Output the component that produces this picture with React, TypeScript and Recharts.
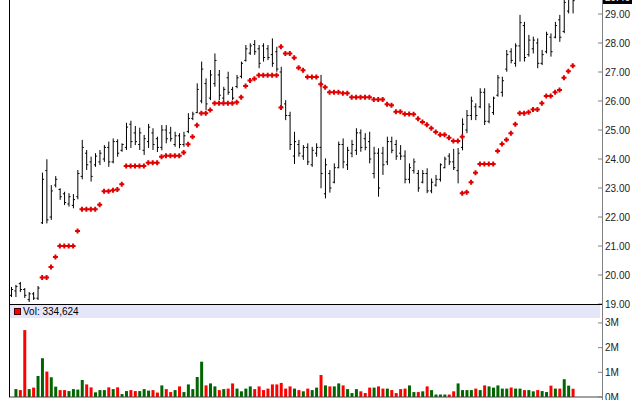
import { ComposedChart, Bar, Line, XAxis, YAxis, Cell } from 'recharts'

// daily bars, oldest first
const highs = [
  19.59, 19.66, 19.76, 19.55, 19.41, 19.41, 19.62, 23.53, 23.99, 23.1,
  23.41, 22.99, 22.87, 22.82, 22.79, 23.62, 24.66, 24.31, 24.08, 24.2,
  24.31, 24.48, 24.6, 24.71, 24.68, 24.54, 25.25, 25.32, 25.14, 25.08,
  24.83, 25.21, 25.06, 24.77, 25.17, 25.17, 25.11, 24.94, 24.89, 24.94,
  25.58, 25.63, 26.61, 27.36, 26.78, 27.07, 27.64, 27.07, 26.49, 27.01,
  26.49, 26.9, 27.36, 27.93, 27.99, 28.1, 27.93, 27.99, 27.93, 28.16,
  27.87, 27.18, 26.03, 25.63, 24.94, 24.66, 24.48, 24.54, 24.42, 24.54,
  26.9, 24.02, 23.62, 23.85, 24.6, 24.71, 24.42, 24.66, 25.06, 25.02,
  24.89, 24.94, 24.42, 24.37, 24.42, 24.77, 24.77, 24.66, 24.48, 24.3,
  23.85, 24.02, 23.62, 23.62, 23.68, 23.33, 23.45, 23.85, 24.08, 24.2,
  24.35, 24.38, 25.4, 25.69, 26.15, 25.92, 26.44, 26.44, 25.92, 26.15,
  26.9, 26.84, 27.76, 27.82, 27.99, 28.97, 28.73, 28.28, 28.22, 28.16,
  27.76, 28.39, 28.33, 28.73, 28.97, 29.7, 29.8, 29.8,
]
const lows = [
  19.24, 19.24, 19.41, 19.21, 19.07, 19.14, 19.14, 21.76, 21.78, 21.9,
  23.02, 22.59, 22.41, 22.36, 22.3, 22.61, 23.3, 23.62, 23.22, 23.73,
  23.79, 23.9, 23.73, 23.85, 24.08, 24.25, 24.31, 24.38, 24.48, 24.31,
  24.14, 24.38, 24.31, 24.24, 24.3, 24.54, 24.6, 24.42, 24.37, 24.42,
  24.89, 25.34, 25.58, 25.92, 25.69, 26.03, 26.49, 26.03, 25.98, 26.21,
  26.03, 26.44, 26.78, 27.36, 27.59, 27.59, 27.13, 27.36, 27.41, 27.18,
  27.01, 25.69, 25.34, 24.31, 23.83, 24.08, 23.97, 23.79, 23.73, 24.08,
  22.99, 22.64, 22.84, 23.16, 23.68, 23.68, 23.62, 24.06, 24.14, 24.25,
  24.3, 23.85, 23.33, 22.7, 23.45, 23.79, 24.2, 23.97, 23.97, 23.16,
  23.16, 23.5, 22.87, 23.16, 22.82, 22.82, 23.05, 23.22, 23.68, 23.79,
  23.62, 23.16, 24.3, 24.89, 25.34, 25.34, 25.75, 25.17, 25.23, 25.52,
  26.15, 26.15, 27.01, 27.3, 27.18, 27.36, 27.36, 27.53, 27.64, 27.13,
  27.24, 27.64, 27.53, 28.16, 28.04, 28.34, 29.02, 29.02,
]
const opens = [
  19.3, 19.45, 19.7, 19.5, 19.15, 19.35, 19.2, 21.8, 23.6, 22.0,
  23.1, 22.95, 22.8, 22.45, 22.4, 22.7, 23.4, 24.2, 23.9, 23.8,
  23.9, 24.0, 24.4, 23.9, 24.6, 24.3, 24.4, 25.2, 24.9, 24.5,
  24.3, 24.6, 24.9, 24.7, 24.4, 25.0, 24.9, 24.5, 24.8, 24.5,
  24.95, 25.4, 25.6, 26.0, 26.6, 26.1, 26.6, 26.9, 26.1, 26.8,
  26.4, 26.5, 26.85, 27.4, 27.65, 27.95, 27.8, 27.9, 27.8, 27.6,
  27.7, 27.0, 25.9, 25.5, 24.1, 24.5, 24.1, 24.4, 23.8, 24.2,
  24.4, 22.8, 23.5, 23.2, 23.7, 24.5, 23.8, 24.2, 24.3, 24.9,
  24.7, 24.6, 23.5, 24.2, 24.2, 23.9, 24.6, 24.5, 24.2, 24.1,
  23.3, 23.6, 23.5, 23.2, 23.5, 22.9, 23.1, 23.3, 23.7, 24.1,
  23.9, 23.6, 24.4, 25.0, 25.5, 25.8, 25.8, 26.3, 25.3, 25.6,
  26.2, 26.3, 27.1, 27.7, 27.3, 27.9, 28.6, 27.6, 27.8, 28.0,
  27.3, 27.7, 28.2, 28.2, 28.8, 28.4, 29.1, 29.6,
]
const closes = [
  19.5, 19.6, 19.5, 19.3, 19.35, 19.2, 19.55, 23.3, 21.9, 22.9,
  23.3, 22.7, 22.5, 22.7, 22.6, 23.5, 24.4, 23.8, 23.4, 24.1,
  24.2, 24.4, 23.9, 24.6, 24.2, 24.5, 25.1, 24.6, 24.6, 24.9,
  24.7, 25.1, 24.5, 24.4, 25.0, 24.7, 24.7, 24.8, 24.5, 24.8,
  25.4, 25.55, 26.4, 27.1, 25.9, 26.9, 27.4, 26.2, 26.4, 26.3,
  26.1, 26.8, 27.3, 27.8, 27.9, 27.7, 27.3, 27.5, 27.5, 27.3,
  27.1, 25.8, 25.5, 24.5, 24.6, 24.2, 24.4, 23.9, 24.3, 24.4,
  23.5, 23.8, 23.0, 23.7, 24.5, 23.9, 24.3, 24.5, 24.9, 24.4,
  24.4, 24.0, 24.2, 23.0, 23.8, 24.6, 24.3, 24.1, 24.1, 23.3,
  23.7, 23.9, 23.0, 23.5, 22.9, 23.2, 23.3, 23.8, 24.0, 23.9,
  23.7, 24.2, 25.2, 25.5, 26.0, 25.5, 26.3, 25.3, 25.8, 26.1,
  26.8, 26.7, 27.6, 27.4, 27.9, 28.7, 27.5, 28.1, 28.1, 27.3,
  27.6, 28.3, 27.7, 28.6, 28.2, 29.4, 29.6, 29.46,
]
const volumes = [
  0, 320000, 280000, 2710000, 320000, 380000, 850000, 1570000, 1030000, 800000,
  420000, 280000, 280000, 240000, 320000, 300000, 690000, 510000, 390000, 190000,
  280000, 280000, 390000, 320000, 390000, 120000, 240000, 280000, 240000, 240000,
  320000, 260000, 280000, 180000, 470000, 320000, 200000, 280000, 430000, 200000,
  510000, 320000, 810000, 1430000, 470000, 550000, 430000, 280000, 320000, 340000,
  550000, 340000, 230000, 340000, 430000, 320000, 430000, 280000, 340000, 510000,
  510000, 570000, 340000, 430000, 340000, 280000, 230000, 340000, 280000, 380000,
  890000, 470000, 430000, 430000, 550000, 470000, 320000, 160000, 320000, 230000,
  160000, 380000, 380000, 430000, 340000, 340000, 280000, 160000, 320000, 340000,
  470000, 200000, 200000, 230000, 430000, 280000, 100000, 100000, 100000, 100000,
  230000, 550000, 280000, 280000, 280000, 340000, 280000, 470000, 430000, 380000,
  470000, 340000, 340000, 380000, 340000, 340000, 280000, 280000, 230000, 280000,
  240000, 200000, 460000, 340000, 340000, 720000, 460000, 334624,
]
// parabolic SAR, below price (rising) and above price (falling)
const sarUp = [
  null, null, null, null, null, null, null, 19.91, 19.91, 20.28,
  20.62, 21.0, 21.0, 21.0, 21.0, 21.52, 22.27, 22.27, 22.27, 22.27,
  22.42, 22.89, 22.89, 22.92, 22.95, 23.13, 23.76, 23.76, 23.76, 23.76,
  23.76, 23.87, 23.87, 23.87, 24.08, 24.11, 24.11, 24.11, 24.11, 24.22,
  24.51, 24.77, 25.16, 25.58, 25.58, 25.69, 25.92, 25.92, 25.92, 25.92,
  25.92, 25.96, 26.13, 26.52, 26.71, 26.77, 26.89, 26.89, 26.89, 26.89,
  26.89, 25.78, null, null, null, null, null, null, null, null,
  null, null, null, null, null, null, null, null, null, null,
  null, null, null, null, null, null, null, null, null, null,
  null, null, null, null, null, null, null, null, null, null,
  null, null, 22.82, 22.85, 23.2, 23.53, 23.83, 23.83, 23.83, 23.83,
  24.28, 24.52, 24.66, 24.89, 25.2, 25.58, 25.58, 25.61, 25.71, 25.71,
  25.92, 26.17, 26.17, 26.3, 26.38, 26.8, 27.03, 27.22,
]
const sarDown = [
  null, null, null, null, null, null, null, null, null, null,
  null, null, null, null, null, null, null, null, null, null,
  null, null, null, null, null, null, null, null, null, null,
  null, null, null, null, null, null, null, null, null, null,
  null, null, null, null, null, null, null, null, null, null,
  null, null, null, null, null, null, null, null, null, null,
  null, 27.87, 27.64, 27.64, 27.49, 27.15, 27.06, 26.83, 26.83, 26.83,
  26.58, 26.47, 26.3, 26.3, 26.3, 26.27, 26.27, 26.13, 26.13, 26.13,
  26.13, 26.13, 26.05, 26.05, 26.05, 25.89, 25.85, 25.63, 25.63, 25.55,
  25.55, 25.54, 25.39, 25.28, 25.18, 25.06, 24.93, 24.84, 24.84, 24.73,
  24.62, 24.62, 24.77, null, null, null, null, null, null, null,
  null, null, null, null, null, null, null, null, null, null,
  null, null, null, null, null, null, null, null,
]
const priceTicks = [19, 20, 21, 22, 23, 24, 25, 26, 27, 28, 29]
const volumeTicks = [0, 1000000, 2000000, 3000000]
const monthTicks = [4, 24, 46, 68, 89, 110]
const lastPrice = 29.46

const FONT = '"Liberation Sans", Arial, sans-serif'
const UP = '#006600'
const DOWN = '#ff0000'

const rows = highs.map((h, i) => ({
  i,
  high: h,
  low: lows[i],
  open: opens[i],
  close: closes[i],
  range: [lows[i], h],
  vol: volumes[i],
  sarUp: sarUp[i],
  sarDown: sarDown[i],
}))

const OhlcShape = (props: any) => {
  const { x, y, width, height, payload } = props
  if (!payload || height == null) return null
  const top = Math.min(y, y + height)
  const h = Math.abs(height)
  const span = payload.high - payload.low
  const at = (p: number) => (span > 0 ? top + ((payload.high - p) / span) * h : top)
  const cx = x + width / 2
  return (
    <g stroke="#000" strokeWidth={1}>
      <line x1={cx} x2={cx} y1={top} y2={top + h} />
      <line x1={cx - 1.6} x2={cx} y1={at(payload.open)} y2={at(payload.open)} />
      <line x1={cx} x2={cx + 1.6} y1={at(payload.close)} y2={at(payload.close)} />
    </g>
  )
}

const SarDot = (props: any) => {
  const { cx, cy, value } = props
  if (value == null || cy == null || isNaN(cy)) return null
  const d = `M${cx - 1} ${cy - 2.5}h2v1.5h1.5v2h-1.5v1.5h-2v-1.5h-1.5v-2h1.5z`
  return <path d={d} fill="#e00000" />
}

const AxisTick = (props: any) => {
  const { x, y, payload, fmt } = props
  return (
    <g>
      <line x1={x - 4} x2={x} y1={y} y2={y} stroke="#808080" />
      <text x={x + 3} y={y} dy={3.5} fontSize={10} fill="#222" fontFamily={FONT}>
        {fmt(payload.value)}
      </text>
    </g>
  )
}

export default function App() {
  return (
    <div
      style={{
        position: 'fixed',
        left: 0,
        top: 0,
        width: 640,
        height: 400,
        background: '#fff',
        overflow: 'hidden',
        fontFamily: FONT,
      }}
    >
      <div style={{ position: 'absolute', left: 0, top: 0 }}>
        <ComposedChart width={640} height={312} data={rows} margin={{ top: 0, right: 0, bottom: 8, left: 9 }}>
          <XAxis dataKey="i" hide padding={{ left: 0, right: 27 }} />
          <YAxis
            orientation="right"
            width={38}
            domain={[19, 29.483]}
            ticks={priceTicks}
            allowDataOverflow
            interval={0}
            axisLine={false}
            tickLine={false}
            tickSize={0}
            tickMargin={0}
            tick={<AxisTick fmt={(v: number) => v.toFixed(2)} />}
          />
          <Bar dataKey="range" shape={<OhlcShape />} barSize={3} isAnimationActive={false} />
          <Line dataKey="sarUp" stroke="none" dot={<SarDot />} activeDot={false} isAnimationActive={false} />
          <Line dataKey="sarDown" stroke="none" dot={<SarDot />} activeDot={false} isAnimationActive={false} />
        </ComposedChart>
      </div>

      <div style={{ position: 'absolute', left: 0, top: 304 }}>
        <ComposedChart width={640} height={96} data={rows} margin={{ top: 14, right: 0, bottom: 0, left: 9 }}>
          <XAxis
            dataKey="i"
            height={3}
            padding={{ left: 0, right: 27 }}
            ticks={monthTicks}
            interval={0}
            tick={false}
            tickSize={4}
            axisLine={{ stroke: '#444' }}
            tickLine={{ stroke: '#444' }}
          />
          <YAxis
            orientation="right"
            width={38}
            domain={[0, 3200000]}
            ticks={volumeTicks}
            allowDataOverflow
            interval={0}
            axisLine={false}
            tickLine={false}
            tickSize={0}
            tickMargin={0}
            tick={<AxisTick fmt={(v: number) => `${v / 1000000}M`} />}
          />
          <Bar dataKey="vol" barSize={3} isAnimationActive={false}>
            {rows.map((r) => (
              <Cell key={r.i} fill={r.close >= r.open ? UP : DOWN} />
            ))}
          </Bar>
        </ComposedChart>
      </div>

      {/* frame lines */}
      <div style={{ position: 'absolute', left: 9, top: 0, width: 1, height: 397, background: '#000' }} />
      <div style={{ position: 'absolute', left: 9, top: 304, width: 593, height: 1, background: '#000' }} />
      <div style={{ position: 'absolute', left: 602, top: 0, width: 1, height: 400, background: '#808080' }} />

      {/* volume legend strip */}
      <div
        style={{
          position: 'absolute',
          left: 10,
          top: 305,
          width: 590,
          height: 13,
          background: '#e6e6fa',
          fontSize: 10,
          lineHeight: '13px',
          color: '#000',
        }}
      >
        <span
          style={{
            position: 'absolute',
            left: 4,
            top: 3,
            width: 5,
            height: 5,
            background: DOWN,
            border: '1px solid #400',
          }}
        />
        <span style={{ position: 'absolute', left: 13, top: 0 }}>
          Vol: {volumes[volumes.length - 1].toLocaleString('en-US')}
        </span>
      </div>

      {/* last price flag */}
      <div
        style={{
          position: 'absolute',
          left: 603,
          top: -8,
          padding: '0 2px',
          background: '#000',
          color: '#fff',
          fontSize: 10,
          lineHeight: '12px',
        }}
      >
        {lastPrice.toFixed(2)}
      </div>
    </div>
  )
}
